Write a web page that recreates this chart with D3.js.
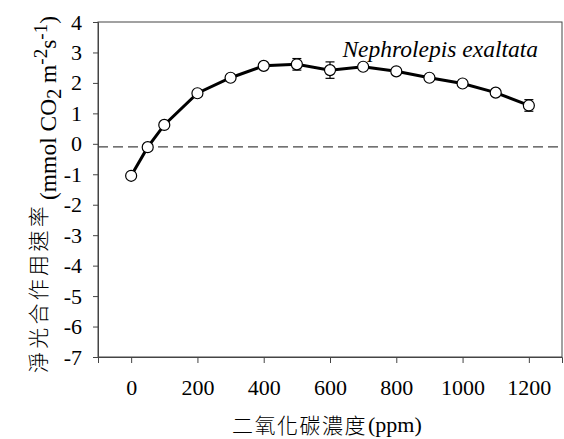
<!DOCTYPE html>
<html>
<head>
<meta charset="utf-8">
<script src="https://cdn.jsdelivr.net/npm/d3@7"></script>
<style>
  body { margin: 0; background: #fff; }
  text { font-family: "Liberation Serif", "Times New Roman", serif; fill: #000; }
  .cjk { font-family: "Noto Sans CJK TC", "Noto Sans CJK SC", sans-serif; font-weight: 300; }
</style>
</head>
<body>
<svg width="564" height="439"></svg>
<script>
var co2 = [0, 50, 100, 200, 300, 400, 500, 600, 700, 800, 900, 1000, 1100, 1200];
var rate = [-1.05, -0.11, 0.62, 1.66, 2.17, 2.56, 2.61, 2.42, 2.53, 2.38, 2.17, 1.98, 1.68, 1.26];
var err = [0, 0, 0, 0, 0, 0, 0.19, 0.27, 0, 0, 0, 0, 0, 0.19];
var xTicks = [0, 200, 400, 600, 800, 1000, 1200];
var yTicks = [4, 3, 2, 1, 0, -1, -2, -3, -4, -5, -6, -7];
var refLine = -0.1;

var svg = d3.select('svg');
var mLeft = 98, mRight = 562, mTop = 22, mBottom = 357;

var x = d3.scaleLinear().domain([-100, 1300]).range([mLeft, mRight]);
var y = d3.scaleLinear().domain([-7, 4]).range([mBottom, mTop]);

var datos = co2.map(function (d, i) {
  return { x: d, y: rate[i], e: err[i] };
});

// guion normal en vez del signo menos
var fmt = function (d) { return String(d); };

// frame
svg.append('rect')
  .attr('x', mLeft).attr('y', mTop)
  .attr('width', mRight - mLeft).attr('height', mBottom - mTop)
  .attr('fill', 'none').attr('stroke', '#444').attr('stroke-width', 1);

// axes
var ejeY = svg.append('g')
  .attr('transform', 'translate(' + mLeft + ',0)')
  .call(d3.axisLeft(y).tickValues(yTicks).tickSize(5).tickPadding(11).tickFormat(fmt));
var ejeX = svg.append('g')
  .attr('transform', 'translate(0,' + mBottom + ')')
  .call(d3.axisBottom(x).tickValues(xTicks).tickSize(6).tickPadding(16).tickFormat(fmt));

[ejeY, ejeX].forEach(function (g) {
  g.attr('font-family', '"Liberation Serif", serif').attr('font-size', 22);
  g.select('.domain').attr('stroke', '#444');
  g.selectAll('.tick line').attr('stroke', '#444');
  g.selectAll('.tick text').attr('fill', '#000');
});

// dashed reference line
svg.append('line')
  .attr('x1', mLeft).attr('x2', mRight)
  .attr('y1', y(refLine)).attr('y2', y(refLine))
  .attr('stroke', '#444').attr('stroke-width', 1.2)
  .attr('stroke-dasharray', '10,5');

// curve
svg.append('path')
  .datum(datos)
  .attr('fill', 'none')
  .attr('stroke', '#000')
  .attr('stroke-width', 3)
  .attr('d', d3.line().x(function (d) { return x(d.x); }).y(function (d) { return y(d.y); }));

// error bars
var barras = svg.append('g').selectAll('g')
  .data(datos.filter(function (d) { return d.e > 0; }))
  .enter().append('g')
  .attr('stroke', '#000').attr('stroke-width', 1.2);
barras.append('line')
  .attr('x1', function (d) { return x(d.x); })
  .attr('x2', function (d) { return x(d.x); })
  .attr('y1', function (d) { return y(d.y + d.e); })
  .attr('y2', function (d) { return y(d.y - d.e); });
[1, -1].forEach(function (s) {
  barras.append('line')
    .attr('x1', function (d) { return x(d.x) - 4.5; })
    .attr('x2', function (d) { return x(d.x) + 4.5; })
    .attr('y1', function (d) { return y(d.y + s * d.e); })
    .attr('y2', function (d) { return y(d.y + s * d.e); });
});

// points
svg.append('g').selectAll('circle')
  .data(datos)
  .enter().append('circle')
  .attr('cx', function (d) { return x(d.x); })
  .attr('cy', function (d) { return y(d.y); })
  .attr('r', 5.5)
  .attr('fill', '#fff')
  .attr('stroke', '#000')
  .attr('stroke-width', 1.2);

// species label
svg.append('text')
  .attr('x', 538).attr('y', 57)
  .attr('text-anchor', 'end')
  .style('font-style', 'italic')
  .style('font-size', '23.5px')
  .text('Nephrolepis exaltata');

// x title
svg.append('text')
  .attr('class', 'cjk')
  .attr('x', 367).attr('y', 433)
  .attr('text-anchor', 'end')
  .style('font-size', '21px')
  .style('letter-spacing', '1.5px')
  .text('二氧化碳濃度');
svg.append('text')
  .attr('x', 368).attr('y', 432)
  .style('font-size', '22px')
  .text('(ppm)');

// y title
svg.append('text')
  .attr('class', 'cjk')
  .attr('transform', 'translate(46,203) rotate(-90)')
  .attr('text-anchor', 'end')
  .style('font-size', '21px')
  .style('letter-spacing', '3.3px')
  .text('淨光合作用速率');
var ty = svg.append('text')
  .attr('transform', 'translate(56,200) rotate(-90)')
  .style('font-size', '23.5px');
ty.append('tspan').text('(mmol CO');
ty.append('tspan').attr('dy', 5).style('font-size', '20px').text('2');
ty.append('tspan').attr('dy', -5).text(' m');
ty.append('tspan').attr('dy', -9).style('font-size', '19px').text('-2');
ty.append('tspan').attr('dy', 9).text('s');
ty.append('tspan').attr('dy', -9).style('font-size', '19px').text('-1');
ty.append('tspan').attr('dy', 9).text(')');
</script>
</body>
</html>
